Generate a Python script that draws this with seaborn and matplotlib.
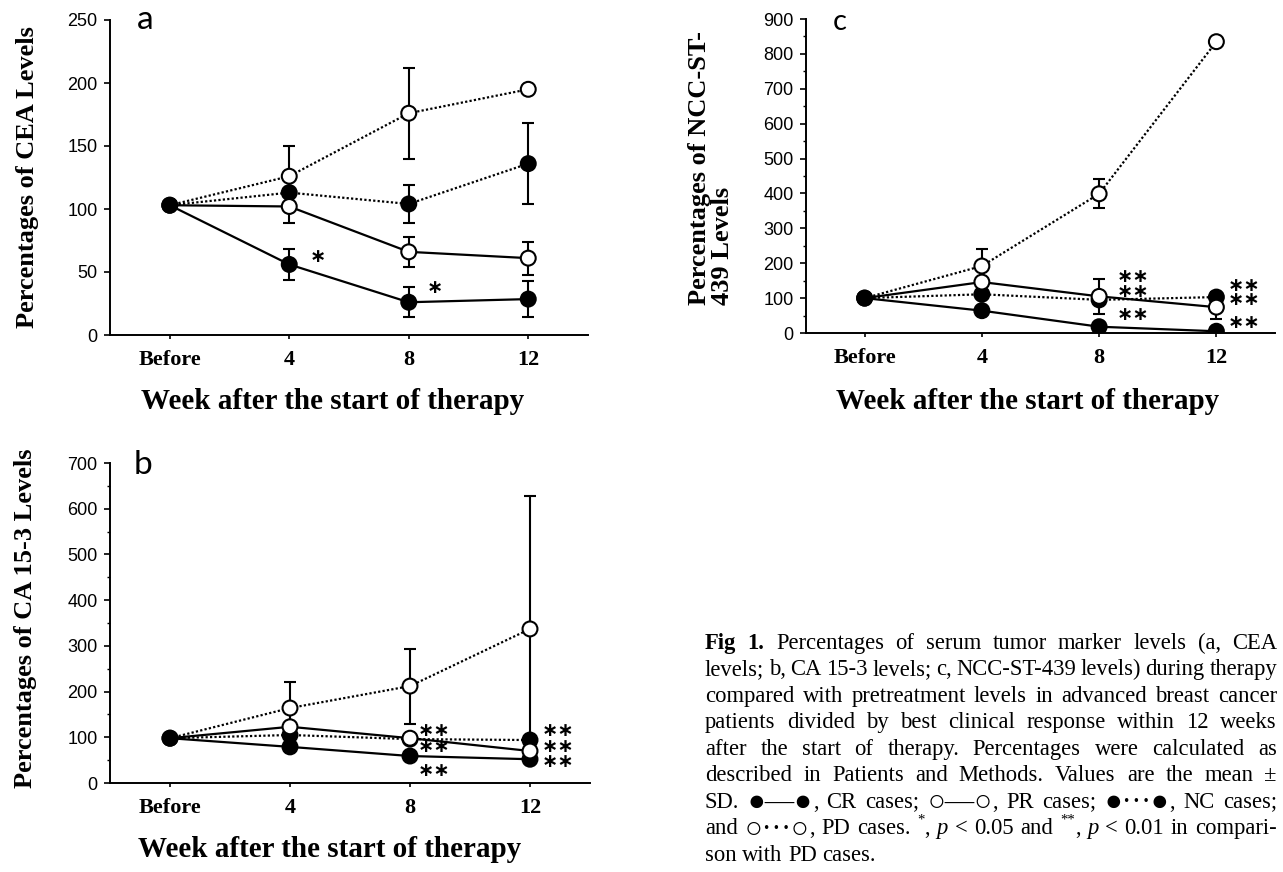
import pandas as pd
import matplotlib
matplotlib.use("Agg")
import matplotlib.pyplot as plt
import seaborn as sns

# Estilo general
sns.set_theme(style="ticks", rc={
    "axes.edgecolor": "black", "xtick.color": "black", "ytick.color": "black",
    "text.color": "black", "axes.labelcolor": "black",
})
plt.rcParams["font.family"] = ["Liberation Serif", "DejaVu Sans"]

weeks = ["Before", "4", "8", "12"]
groups = ["CR", "PR", "NC", "PD"]

# a: CEA
cea_mean = {"CR": [103, 56, 26, 28.5], "PR": [103, 102, 66, 61],
            "NC": [103, 113, 104, 136], "PD": [103, 126, 176, 195]}
cea_sd = {"CR": [0, 12, 12, 14], "PR": [0, 13, 12, 13],
          "NC": [0, 0, 15, 32], "PD": [0, 24, 36, 0]}
cea_stars = [(1.24, 62, "∗"), (2.22, 38, "∗")]

# b: CA 15-3
ca_mean = {"CR": [98, 79, 59, 52], "PR": [98, 123, 98, 70],
           "NC": [98, 105, 96, 94], "PD": [98, 164, 212, 337]}
ca_sd = {"CR": [0, 0, 0, 0], "PR": [0, 0, 0, 0],
         "NC": [0, 0, 0, 0], "PD": [0, 57, 82, 291]}
ca_stars = [(2.2, 114, "∗∗"), (2.2, 79, "∗∗"), (2.2, 28, "∗∗"),
            (3.23, 114, "∗∗"), (3.23, 79, "∗∗"), (3.23, 46, "∗∗")]

# c: NCC-ST-439
ncc_mean = {"CR": [100, 64, 18, 5], "PR": [100, 146, 105, 74],
            "NC": [100, 111, 95, 103], "PD": [100, 192, 399, 835]}
ncc_sd = {"CR": [0, 0, 0, 0], "PR": [0, 0, 50, 35],
          "NC": [0, 0, 0, 14], "PD": [0, 50, 42, 0]}
ncc_stars = [(2.29, 161, "∗∗"), (2.29, 118, "∗∗"), (2.29, 52, "∗∗"),
             (3.24, 137, "∗∗"), (3.24, 95, "∗∗"), (3.24, 30, "∗∗")]

caption_lines = [
    "Fig 1. Percentages of serum tumor marker levels (a, CEA",
    "levels; b, CA 15-3 levels; c, NCC-ST-439 levels) during therapy",
    "compared with pretreatment levels in advanced breast cancer",
    "patients divided by best clinical response within 12 weeks",
    "after the start of therapy. Percentages were calculated as",
    "described in Patients and Methods. Values are the mean ±",
    "SD. ●—●, CR cases; ○—○, PR cases; ●···●, NC cases;",
    "and ○···○, PD cases. *, p < 0.05 and **, p < 0.01 in compari-",
    "son with PD cases.",
]

W, H = 1283, 872
line_dash = {"CR": "", "PR": "", "NC": (1, 1), "PD": (1, 1)}
face = {"CR": "black", "PR": "white", "NC": "black", "PD": "white"}
draw_order = ["CR", "NC", "PD", "PR"]


def draw_panel(ax, means, sds, ymax, ystep, minor, stars):
    rows = []
    for g in groups:
        for i, w in enumerate(weeks):
            rows.append({"pos": i, "group": g, "value": means[g][i], "sd": sds[g][i]})
    df = pd.DataFrame(rows)

    sns.lineplot(data=df, x="pos", y="value", hue="group", style="group",
                 palette={g: "black" for g in groups}, dashes=line_dash,
                 linewidth=1.6, errorbar=None, legend=False, ax=ax, zorder=2)
    bars = df[df["sd"] > 0]
    ax.errorbar(bars["pos"], bars["value"], yerr=bars["sd"], fmt="none",
                ecolor="black", elinewidth=1.5, capsize=4, capthick=1.5, zorder=2.5)

    pts = df[~((df["pos"] == 0) & df["group"].isin(["PR", "PD"]))].copy()
    pts["group"] = pd.Categorical(pts["group"], draw_order)
    pts = pts.sort_values("group")
    sns.scatterplot(data=pts, x="pos", y="value", hue="group", palette=face,
                    edgecolor="black", linewidth=1.5, s=115, legend=False, ax=ax, zorder=3)

    for x, y, s in stars:
        ax.text(x, y, s, ha="center", va="center", fontsize=14,
                fontweight="bold", family="DejaVu Sans")

    ax.set_xlim(-0.5, 3.5)
    ax.set_ylim(0, ymax)
    ax.set_xticks(range(4))
    ax.set_xticklabels(weeks, fontsize=16, fontweight="bold", family="Liberation Serif")
    yt = list(range(0, ymax + 1, ystep))
    ax.set_yticks(yt)
    ax.set_yticklabels([str(v) for v in yt], fontsize=13, family="Liberation Sans")
    if minor:
        ax.set_yticks([v + ystep / 2 for v in yt[:-1]], minor=True)
    ax.tick_params(axis="y", length=4, width=1.2, pad=5)
    ax.tick_params(axis="y", which="minor", length=2.5, width=1)
    ax.tick_params(axis="x", length=3, width=1.2, pad=8)
    ax.set_xlabel("")
    ax.set_ylabel("")
    sns.despine(ax=ax)
    for sp in ["left", "bottom"]:
        ax.spines[sp].set_linewidth(1.4)


def axes_at(fig, left, top, right, bottom):
    return fig.add_axes([left / W, 1 - bottom / H, (right - left) / W, (bottom - top) / H])


def put_caption(fig, left, right, top, step, size):
    r = fig.canvas.get_renderer()
    for i, line in enumerate(caption_lines):
        y = top + i * step
        words = []
        for k, word in enumerate(line.split(" ")):
            runs = []
            if i == 0 and k < 2:
                runs.append((word, {"fontweight": "bold"}, 0))
            elif word == "p":
                runs.append((word, {"fontstyle": "italic"}, 0))
            elif word.startswith("*"):
                stars = word.rstrip(",")
                runs.append((stars, {"fontsize": size * 0.65}, -8))
                runs.append((word[len(stars):], {}, 0))
            elif word[0] in "●○":
                runs.append((word[:-1], {"fontsize": size * 1.3}, 1))
                runs.append((word[-1], {}, 0))
            else:
                runs.append((word, {}, 0))
            objs = []
            for txt, kw, dy in runs:
                opts = {"fontsize": size, "ha": "left", "va": "center"}
                opts.update(kw)
                t = fig.text(0, 0, txt, **opts)
                objs.append((t, t.get_window_extent(r).width, dy))
            words.append(objs)
        total = sum(w for objs in words for _, w, _ in objs)
        if i < len(caption_lines) - 1:
            gap = (right - left - total) / (len(words) - 1)
        else:
            gap = size * 100 / 72 * 0.25
        x = left
        for objs in words:
            for t, w, dy in objs:
                t.set_position((x / W, 1 - (y + dy) / H))
                x += w
            x += gap


fig = plt.figure(figsize=(W / 100, H / 100), dpi=100)

ax_a = axes_at(fig, 110, 20, 588, 335)
draw_panel(ax_a, cea_mean, cea_sd, 250, 50, False, cea_stars)
ax_b = axes_at(fig, 110, 463, 590, 783)
draw_panel(ax_b, ca_mean, ca_sd, 700, 100, True, ca_stars)
ax_c = axes_at(fig, 806, 19, 1275, 333)
draw_panel(ax_c, ncc_mean, ncc_sd, 900, 100, True, ncc_stars)

lab = {"fontsize": 19, "fontweight": "bold", "family": "Liberation Serif"}
fig.text(28 / W, 1 - 177 / H, "Percentages of CEA Levels", rotation=90,
         ha="center", va="center", **lab)
fig.text(26 / W, 1 - 618 / H, "Percentages of CA 15-3 Levels", rotation=90,
         ha="center", va="center", **lab)
fig.text(711 / W, 1 - 305 / H, "Percentages of NCC-ST-\n439 Levels", rotation=90,
         ha="center", va="bottom", multialignment="left", linespacing=1.05, **lab)

xl = {"fontsize": 21, "fontweight": "bold", "family": "Liberation Serif",
      "ha": "center", "va": "center"}
fig.text(333 / W, 1 - 401 / H, "Week after the start of therapy", **xl)
fig.text(330 / W, 1 - 849 / H, "Week after the start of therapy", **xl)
fig.text(1028 / W, 1 - 401 / H, "Week after the start of therapy", **xl)

pl = {"fontsize": 24, "family": "Lato", "ha": "center", "va": "center"}
fig.text(145 / W, 1 - 20 / H, "a", **pl)
fig.text(143 / W, 1 - 465 / H, "b", **pl)
fig.text(840 / W, 1 - 22 / H, "c", fontsize=21, family="Lato", ha="center", va="center")

put_caption(fig, 705, 1277, 643, 26.5, 16.3)

fig.savefig("out.png", dpi=100)
plt.close(fig)
